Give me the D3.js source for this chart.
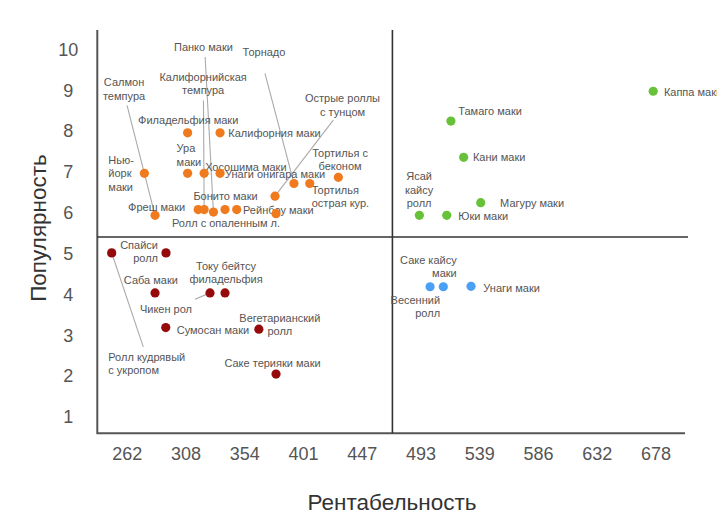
<!DOCTYPE html>
<html>
<head>
<meta charset="utf-8">
<script src="https://cdn.jsdelivr.net/npm/d3@7"></script>
<style>
  body { margin: 0; background: #fff; }
  svg { font-family: "Liberation Sans", Arial, sans-serif; }
</style>
</head>
<body>
<script>
// rolls: name, profitability, popularity, quadrant group
var names = [
  "Салмон темпура", "Фреш маки", "Калифорнийская темпура", "Панко маки", "Бонито маки",
  "Рейнбоу маки", "Ролл с опаленным л.", "Острые роллы с тунцом", "Торнадо",
  "Тортилья острая кур.", "Тортилья с беконом", "Нью-йорк маки", "Ура маки",
  "Хосошима маки", "Унаги онигара маки", "Филадельфия маки", "Калифорния маки",
  "Ролл кудрявый с укропом", "Спайси ролл", "Саба маки", "Чикен рол",
  "Току бейтсу филадельфия", "Сумосан маки", "Вегетарианский ролл", "Саке терияки маки",
  "Каппа маки", "Тамаго маки", "Кани маки", "Магуру маки", "Ясай кайсу ролл", "Юки маки",
  "Весенний ролл", "Саке кайсу маки", "Унаги маки"
];
var profit = [
  284.4, 318.3, 323, 330.3, 339.4, 348.6, 379.5, 378.7, 393.6, 406, 428.5, 276, 310,
  323, 335.5, 310, 335.5,
  250.3, 293, 284.4, 327.6, 339.4, 292.8, 366, 379.5,
  676, 517, 527, 540.4, 492.2, 513.7,
  500.6, 511, 532.8
];
var popularity = [
  5.94, 6.08, 6.08, 6.02, 6.08, 6.08, 5.98, 6.41, 6.72, 6.72, 6.87, 6.97, 6.97,
  6.97, 6.97, 7.96, 7.96,
  5.02, 5.02, 4.04, 4.04, 4.04, 3.19, 3.15, 2.05,
  8.98, 8.25, 7.36, 6.25, 5.94, 5.94,
  4.19, 4.19, 4.2
];
var group = [
  0,0,0,0,0,0,0,0,0,0,0,0,0,0,0,0,0,
  1,1,1,1,1,1,1,1,
  2,2,2,2,2,2,
  3,3,3
];
var xTickLabels = ["262", "308", "354", "401", "447", "493", "539", "586", "632", "678"];
var yTickValues = [1, 2, 3, 4, 5, 6, 7, 8, 9, 10];
var profitMin = 239, profitMax = 701;
var profitMean = 471, popularityMean = 5.41;

// label placement: text lines, anchor, offset from dot, optional leader start
var labelLayout = [
  { lines: ["Салмон", "темпура"], a: "middle", dx: -31, dy: -129, lead: [-28, -110] },
  { lines: ["Фреш маки"], a: "end", dx: -13, dy: 1.5 },
  { lines: ["Калифорнийская", "темпура"], a: "middle", dx: -1, dy: -128.5, lead: [-0.7, -109] },
  { lines: ["Панко маки"], a: "middle", dx: -10, dy: -161, lead: [-8.3, -155] },
  { lines: ["Бонито маки"], a: "middle", dx: 0.5, dy: -9.3 },
  { lines: ["Рейнбоу маки"], a: "start", dx: 6.3, dy: 4.7 },
  { lines: ["Ролл с опаленным л."], a: "start", dx: -104, dy: 13.4 },
  { lines: ["Острые роллы", "с тунцом"], a: "middle", dx: 67.5, dy: -93.7, lead: [58.3, -76] },
  { lines: ["Торнадо"], a: "middle", dx: -30, dy: -127.6, lead: [-29, -110] },
  { lines: ["Тортилья", "острая кур."], a: "start", dx: 2, dy: 10.7 },
  { lines: ["Тортилья с", "беконом"], a: "middle", dx: 1.7, dy: -20.6 },
  { lines: ["Нью-", "йорк", "маки"], a: "start", dx: -36, dy: -9.3 },
  { lines: ["Ура", "маки"], a: "start", dx: -11, dy: -21 },
  { lines: ["Хосошима маки"], a: "start", dx: 1, dy: -2.6 },
  { lines: ["Унаги онигара маки"], a: "start", dx: 5, dy: 5 },
  { lines: ["Филадельфия маки"], a: "middle", dx: 0.6, dy: -8.7 },
  { lines: ["Калифорния маки"], a: "start", dx: 8.3, dy: 4.6 },
  { lines: ["Ролл кудрявый", "с укропом"], a: "start", dx: -3.4, dy: 108, lead: [31.6, 94] },
  { lines: ["Спайси", "ролл"], a: "end", dx: -8, dy: -3.7 },
  { lines: ["Саба маки"], a: "middle", dx: -4.2, dy: -8.7 },
  { lines: ["Чикен рол"], a: "middle", dx: -44, dy: 20.6, lead: [-15, 6.3] },
  { lines: ["Току бейтсу", "филадельфия"], a: "middle", dx: 1, dy: -22.7 },
  { lines: ["Сумосан маки"], a: "start", dx: 11, dy: 6 },
  { lines: ["Вегетарианский", "ролл"], a: "middle", dx: 21, dy: -7.7 },
  { lines: ["Саке терияки маки"], a: "middle", dx: -3.5, dy: -6.7 },
  { lines: ["Каппа маки"], a: "start", dx: 10.7, dy: 4.7 },
  { lines: ["Тамаго маки"], a: "start", dx: 7.3, dy: -6.3 },
  { lines: ["Кани маки"], a: "start", dx: 9.3, dy: 4 },
  { lines: ["Магуру маки"], a: "start", dx: 19.4, dy: 4 },
  { lines: ["Ясай", "кайсу", "ролл"], a: "middle", dx: -0.3, dy: -35 },
  { lines: ["Юки маки"], a: "start", dx: 11.6, dy: 4.7 },
  { lines: ["Весенний", "ролл"], a: "end", dx: 10, dy: 17.3 },
  { lines: ["Саке кайсу", "маки"], a: "end", dx: 13.4, dy: -22.7 },
  { lines: ["Унаги маки"], a: "start", dx: 12.3, dy: 5.3 }
];

var colors = ["#f07a1e", "#950b0b", "#67c23a", "#4aa0f4"];

var width = 717, height = 525;
var plotLeft = 97.3, plotRight = 685, plotTop = 30, plotBottom = 433.3;

var svg = d3.select("body").append("svg")
  .attr("width", width)
  .attr("height", height);

var x = d3.scaleLinear().domain([profitMin, profitMax]).range([plotLeft, plotRight]);
var y = d3.scaleLinear().domain([0.6, 10.48]).range([plotBottom, plotTop]);

var data = names.map(function(n, i) {
  return { name: n, profit: profit[i], pop: popularity[i], g: group[i], lab: labelLayout[i] };
});

// x labels sit in the middle of each bin
var step = (profitMax - profitMin) / xTickLabels.length;
var binCenters = xTickLabels.map(function(d, i) { return profitMin + step * (i + 0.5); });

var xAxis = svg.append("g")
  .attr("transform", "translate(0," + plotBottom + ")")
  .call(d3.axisBottom(x).tickValues(binCenters)
    .tickFormat(function(d, i) { return xTickLabels[i]; })
    .tickSize(0).tickPadding(14));
xAxis.select(".domain").remove();
xAxis.selectAll("text")
  .attr("font-size", 18).attr("fill", "#555").attr("font-family", "Liberation Sans, Arial, sans-serif");

var yAxis = svg.append("g")
  .attr("transform", "translate(" + plotLeft + ",0)")
  .call(d3.axisLeft(y).tickValues(yTickValues).tickSize(0));
yAxis.select(".domain").remove();
yAxis.selectAll("text")
  .attr("x", -29).attr("text-anchor", "middle")
  .attr("font-size", 18).attr("fill", "#555").attr("font-family", "Liberation Sans, Arial, sans-serif");

// axis frame
svg.append("path")
  .attr("d", "M" + plotLeft + "," + plotTop + "V" + plotBottom + "H" + plotRight)
  .attr("fill", "none").attr("stroke", "#555").attr("stroke-width", 2);

// quadrant dividers
svg.append("line")
  .attr("x1", x(profitMean)).attr("x2", x(profitMean))
  .attr("y1", plotTop).attr("y2", plotBottom)
  .attr("stroke", "#333").attr("stroke-width", 1.6);
svg.append("line")
  .attr("x1", plotLeft).attr("x2", plotRight + 3)
  .attr("y1", y(popularityMean)).attr("y2", y(popularityMean))
  .attr("stroke", "#333").attr("stroke-width", 1.6);

// leader lines
svg.selectAll("line.lead")
  .data(data.filter(function(d) { return d.lab.lead; }))
  .enter().append("line")
  .attr("class", "lead")
  .attr("x1", function(d) { return x(d.profit) + d.lab.lead[0]; })
  .attr("y1", function(d) { return y(d.pop) + d.lab.lead[1]; })
  .attr("x2", function(d) { return x(d.profit); })
  .attr("y2", function(d) { return y(d.pop); })
  .attr("stroke", "#aaa").attr("stroke-width", 1.1);

// labels
var labels = svg.selectAll("text.lab")
  .data(data)
  .enter().append("text")
  .attr("class", "lab")
  .attr("font-size", 11)
  .attr("fill", "#555")
  .attr("text-anchor", function(d) { return d.lab.a; })
  .attr("x", function(d) { return x(d.profit) + d.lab.dx; })
  .attr("y", function(d) { return y(d.pop) + d.lab.dy; });

labels.selectAll("tspan")
  .data(function(d) {
    return d.lab.lines.map(function(l, i) { return { t: l, i: i, px: x(d.profit) + d.lab.dx }; });
  })
  .enter().append("tspan")
  .attr("x", function(d) { return d.px; })
  .attr("dy", function(d) { return d.i ? 13.3 : 0; })
  .text(function(d) { return d.t; });

// points
svg.selectAll("circle")
  .data(data)
  .enter()
  .append("circle")
    .attr("r", 4.6)
    .attr("cx", function(d) { return x(d.profit); })
    .attr("cy", function(d) { return y(d.pop); })
    .attr("fill", function(d) { return colors[d.g]; });

// axis titles
svg.append("text")
  .attr("transform", "translate(46,228) rotate(-90)")
  .attr("text-anchor", "middle")
  .attr("font-size", 22.5)
  .attr("fill", "#333")
  .text("Популярность");

svg.append("text")
  .attr("x", 392).attr("y", 510)
  .attr("text-anchor", "middle")
  .attr("font-size", 22.5)
  .attr("fill", "#333")
  .text("Рентабельность");
</script>
</body>
</html>
